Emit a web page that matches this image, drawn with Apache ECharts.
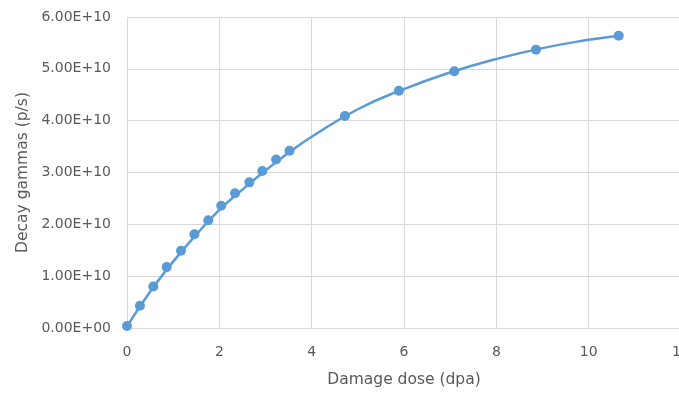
<!DOCTYPE html>
<html>
<head>
<meta charset="utf-8">
<style>
  html, body { margin: 0; padding: 0; background: #ffffff; }
  #chart { width: 679px; height: 393px; }
</style>
<script src="https://cdn.jsdelivr.net/npm/echarts@6/dist/echarts.min.js"></script>
</head>
<body>
<div id="chart"></div>
<script>
// Measured decay gamma rate versus damage dose
const doseDpa = [0, 0.28, 0.57, 0.86, 1.17, 1.46, 1.76, 2.04, 2.34, 2.65, 2.93, 3.23, 3.52, 4.72, 5.89, 7.09, 8.86, 10.65];
const gammaRate = [0.04e10, 0.43e10, 0.80e10, 1.175e10, 1.49e10, 1.81e10, 2.08e10, 2.36e10, 2.60e10, 2.81e10, 3.03e10, 3.25e10, 3.42e10, 4.09e10, 4.575e10, 4.955e10, 5.37e10, 5.64e10];

// Smooth fitted curve through the measurements
const curveDose = [0, 0.5, 1, 1.5, 2, 2.5, 3, 3.5, 4, 5, 6, 7, 8, 9, 10, 10.65];
const curveRate = [0.03e10, 0.70e10, 1.28e10, 1.80e10, 2.28e10, 2.67e10, 3.04e10, 3.38e10, 3.69e10, 4.22e10, 4.61e10, 4.93e10, 5.19e10, 5.40e10, 5.56e10, 5.64e10];

// Axis ticks
const xTicks = { min: 0, max: 12, interval: 2 };
const yTicks = { min: 0, max: 6e10, interval: 1e10 };

const blue = '#5b9bd5';
const textColor = '#595959';
const gridColor = '#d9d9d9';
const font = 'DejaVu Sans';

function sci(v) {
  if (v === 0) return '0.00E+00';
  const [m, e] = v.toExponential(2).split('e');
  const n = parseInt(e, 10);
  const sign = n < 0 ? '-' : '+';
  const abs = Math.abs(n);
  return m + 'E' + sign + (abs < 10 ? '0' + abs : abs);
}

const chart = echarts.init(document.getElementById('chart'), null, { renderer: 'canvas' });
chart.setOption({
  animation: false,
  backgroundColor: '#ffffff',
  // plot area runs slightly past the right edge of the canvas
  grid: { left: 127, width: 554, top: 17, bottom: 65, containLabel: false, outerBoundsMode: 'none' },
  xAxis: {
    type: 'value',
    min: xTicks.min, max: xTicks.max, interval: xTicks.interval,
    name: 'Damage dose (dpa)',
    nameLocation: 'middle',
    nameGap: 44,
    nameTextStyle: { color: textColor, fontSize: 15.5, fontFamily: font },
    axisLine: { show: true, lineStyle: { color: gridColor, width: 1 } },
    axisTick: { show: false },
    axisLabel: { color: textColor, fontSize: 14, fontFamily: font, margin: 17 },
    splitLine: { show: true, lineStyle: { color: gridColor, width: 1 } }
  },
  yAxis: {
    type: 'value',
    min: yTicks.min, max: yTicks.max, interval: yTicks.interval,
    name: 'Decay gammas (p/s)',
    nameLocation: 'middle',
    nameGap: 94,
    nameRotate: 90,
    nameTextStyle: { color: textColor, fontSize: 15.5, fontFamily: font },
    axisLine: { show: false },
    axisTick: { show: false },
    axisLabel: { color: textColor, fontSize: 14, fontFamily: font, margin: 16, formatter: sci },
    splitLine: { show: true, lineStyle: { color: gridColor, width: 1 } }
  },
  series: [
    {
      type: 'line',
      data: curveDose.map((x, i) => [x, curveRate[i]]),
      smooth: true,
      showSymbol: false,
      lineStyle: { color: blue, width: 2.5 },
      z: 2
    },
    {
      type: 'scatter',
      data: doseDpa.map((x, i) => [x, gammaRate[i]]),
      symbol: 'circle',
      symbolSize: 10,
      itemStyle: { color: blue, opacity: 1 },
      z: 3
    }
  ]
});
</script>
</body>
</html>
